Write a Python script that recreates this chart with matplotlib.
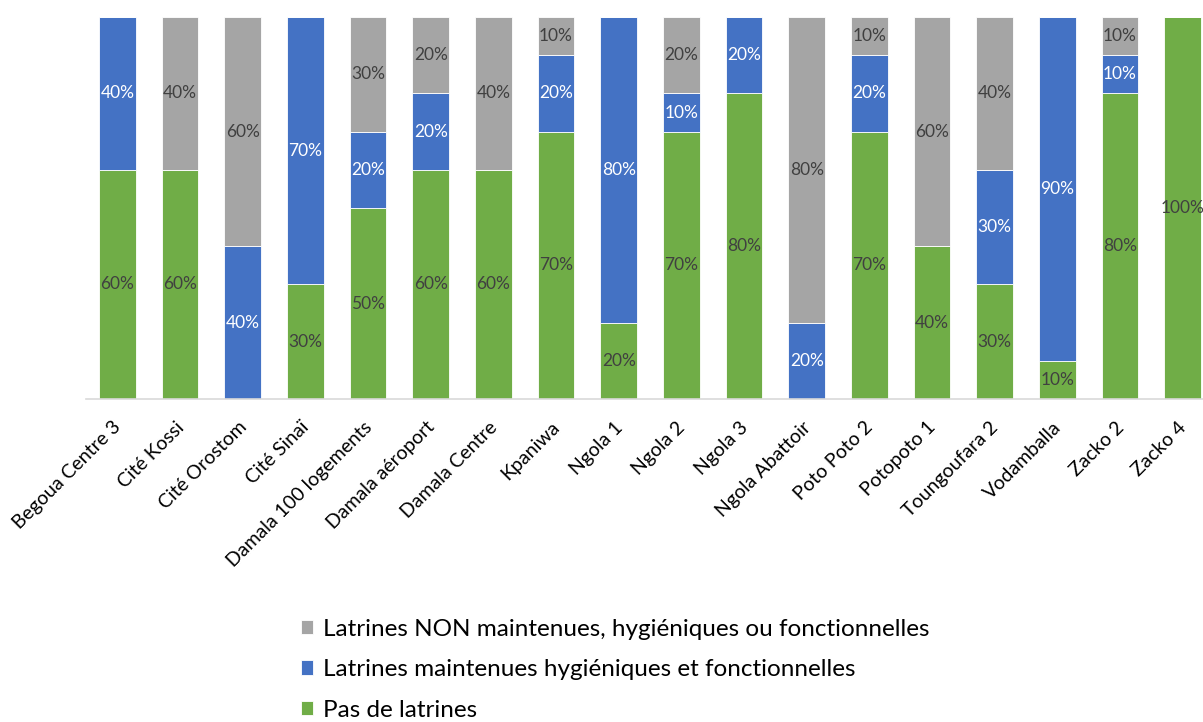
import matplotlib
matplotlib.use("Agg")
import matplotlib.pyplot as plt
from matplotlib.transforms import ScaledTranslation
import numpy as np

plt.rcParams["font.family"] = ["Lato", "DejaVu Sans"]

categories = [
    "Begoua Centre 3", "Cité Kossi", "Cité Orostom", "Cité Sinaï",
    "Damala 100 logements", "Damala aéroport", "Damala Centre", "Kpaniwa",
    "Ngola 1", "Ngola 2", "Ngola 3", "Ngola Abattoir", "Poto Poto 2",
    "Potopoto 1", "Toungoufara 2", "Vodamballa", "Zacko 2", "Zacko 4",
]
pas_latrines = [60, 60, 0, 30, 50, 60, 60, 70, 20, 70, 80, 0, 70, 40, 30, 10, 80, 100]
maintenues = [40, 0, 40, 70, 20, 20, 0, 20, 80, 10, 20, 20, 20, 0, 30, 90, 10, 0]
non_maintenues = [0, 40, 60, 0, 30, 20, 40, 10, 0, 20, 0, 80, 10, 60, 40, 0, 10, 0]

series = [
    ("Pas de latrines", pas_latrines, "#70AD47", "#404040"),
    ("Latrines maintenues hygiéniques et fonctionnelles", maintenues, "#4472C4", "white"),
    ("Latrines NON maintenues, hygiéniques ou fonctionnelles", non_maintenues, "#A5A5A5", "#404040"),
]

fig = plt.figure(figsize=(12.03, 7.22), dpi=100)
ax = fig.add_axes([86 / 1203, 1 - 399 / 722, (1214 - 86) / 1203, (399 - 17) / 722])

x = np.arange(len(categories))
bottom = np.zeros(len(categories))
handles = []
for label, vals, color, tcolor in series:
    vals = np.array(vals, dtype=float)
    bars = ax.bar(x, vals, 0.58, bottom=bottom, color=color, edgecolor="white",
                  linewidth=0.6, label=label)
    handles.append(bars)
    for xi, b, v in zip(x, bottom, vals):
        if v > 0:
            ax.text(xi, b + v / 2, f"{int(v)}%", ha="center", va="center",
                    fontsize=12.5, color=tcolor)
    bottom += vals

ax.set_xlim(-0.5, len(categories) - 0.5)
ax.set_ylim(0, 100)
ax.set_yticks([])
for s in ["top", "right", "left"]:
    ax.spines[s].set_visible(False)
ax.spines["bottom"].set_color("#D9D9D9")
ax.spines["bottom"].set_linewidth(1.2)
ax.set_xticks(x)
ax.set_xticklabels(categories, rotation=45, ha="right", rotation_mode="anchor",
                   fontsize=14, color="black")
ax.tick_params(axis="x", length=0, pad=14)
shift = ScaledTranslation(-5 / 100, 0, fig.dpi_scale_trans)
for lbl in ax.get_xticklabels():
    lbl.set_transform(lbl.get_transform() + shift)

leg = fig.legend(handles[::-1], [s[0] for s in series][::-1],
                 loc="upper left", bbox_to_anchor=(291 / 1203, 1 - 609 / 722),
                 frameon=False, fontsize=17.5, handlelength=0.52, handleheight=0.52,
                 handletextpad=0.4, labelspacing=0.8, borderaxespad=0)

fig.savefig("out.png", dpi=100, facecolor="white")
